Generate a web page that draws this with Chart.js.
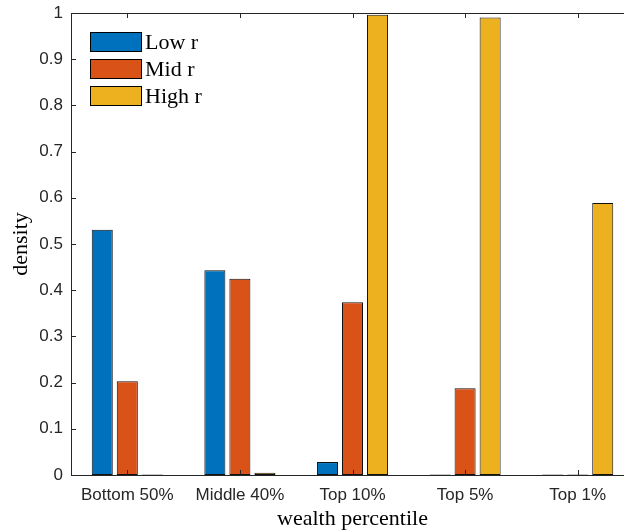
<!DOCTYPE html>
<html>
<head>
<meta charset="utf-8">
<script src="https://cdn.jsdelivr.net/npm/chart.js@4"></script>
<style>
  html, body { margin: 0; padding: 0; background: #fff; }
  #wrap { width: 624px; height: 532px; overflow: hidden; }
</style>
</head>
<body>
<!-- the original figure is cut off on the right, so the canvas runs a bit past the window -->
<div id="wrap"><canvas id="chart" width="634" height="532"></canvas></div>
<script>
// data
const categories = ["Bottom 50%", "Middle 40%", "Top 10%", "Top 5%", "Top 1%"];
const lowR = [0.531, 0.443, 0.028, 0.001, 0.001];
const midR = [0.203, 0.425, 0.374, 0.188, 0.001];
const highR = [0.001, 0.005, 0.996, 0.99, 0.589];
const yTicks = [0, 0.1, 0.2, 0.3, 0.4, 0.5, 0.6, 0.7, 0.8, 0.9, 1];

const axisColor = "#262626";
const serif = "'Liberation Serif', 'Times New Roman', serif";
const sans = "'Liberation Sans', Arial, sans-serif";

// MATLAB style box + inward ticks
const boxTicks = {
  id: "boxTicks",
  afterDraw(chart) {
    const { ctx, chartArea: a, scales } = chart;
    ctx.save();
    ctx.strokeStyle = axisColor;
    ctx.lineWidth = 1;
    ctx.beginPath();
    ctx.rect(a.left + 0.5, a.top + 0.5, a.right - a.left, a.bottom - a.top);
    yTicks.forEach((v) => {
      const y = Math.round(scales.y.getPixelForValue(v)) + 0.5;
      ctx.moveTo(a.left, y);
      ctx.lineTo(a.left + 5, y);
      ctx.moveTo(a.right, y);
      ctx.lineTo(a.right - 5, y);
    });
    categories.forEach((c, i) => {
      const x = Math.round(scales.x.getPixelForValue(i)) + 0.5;
      ctx.moveTo(x, a.bottom);
      ctx.lineTo(x, a.bottom - 5);
      ctx.moveTo(x, a.top);
      ctx.lineTo(x, a.top + 5);
    });
    ctx.stroke();
    ctx.restore();
  },
};

// legend box in upper left corner of the axes
const cornerLegend = {
  id: "cornerLegend",
  afterDraw(chart) {
    const { ctx, chartArea: a } = chart;
    ctx.save();
    ctx.font = "22px " + serif;
    ctx.textBaseline = "middle";
    chart.data.datasets.forEach((ds, i) => {
      const x = a.left + 19;
      const y = a.top + 19 + i * 27;
      ctx.fillStyle = ds.backgroundColor;
      ctx.fillRect(x, y, 52, 20);
      ctx.strokeStyle = "#000";
      ctx.lineWidth = 1;
      ctx.strokeRect(x + 0.5, y + 0.5, 51, 19);
      ctx.fillStyle = "#000";
      ctx.fillText(ds.label, x + 55, y + 11);
    });
    ctx.restore();
  },
};

new Chart(document.getElementById("chart"), {
  type: "bar",
  data: {
    labels: categories,
    datasets: [
      { label: "Low r", data: lowR, backgroundColor: "#0072BD" },
      { label: "Mid r", data: midR, backgroundColor: "#D95319" },
      { label: "High r", data: highR, backgroundColor: "#EDB120" },
    ].map((d) => ({
      ...d,
      borderColor: "#111",
      borderWidth: 1,
      borderSkipped: false,
      categoryPercentage: 0.667,
      barPercentage: 0.84,
    })),
  },
  options: {
    responsive: false,
    animation: false,
    layout: { padding: { top: 13, right: 0, left: 0, bottom: 0 } },
    plugins: {
      legend: { display: false },
      tooltip: { enabled: false },
    },
    scales: {
      x: {
        grid: { display: false, drawTicks: false },
        border: { display: false },
        ticks: { color: axisColor, font: { family: sans, size: 17 }, padding: 10 },
        title: {
          display: true,
          text: "wealth percentile",
          color: "#000",
          font: { family: serif, size: 22 },
          padding: { top: -2, bottom: 0 },
        },
        afterFit: (s) => {
          s.height = 57;
          s.paddingRight = 0;
        },
      },
      y: {
        min: 0,
        max: 1,
        grid: { display: false, drawTicks: false },
        border: { display: false },
        afterBuildTicks: (s) => { s.ticks = yTicks.map((v) => ({ value: v })); },
        ticks: {
          color: axisColor,
          font: { family: sans, size: 17 },
          padding: 8,
          callback: (v) => String(v),
        },
        title: {
          display: true,
          text: "density",
          color: "#000",
          font: { family: serif, size: 22 },
          padding: { top: 8, bottom: 0 },
        },
        afterFit: (s) => {
          s.width = 71;
          s.paddingTop = 0;
          s.paddingBottom = 0;
        },
      },
    },
  },
  plugins: [boxTicks, cornerLegend],
});
</script>
</body>
</html>
